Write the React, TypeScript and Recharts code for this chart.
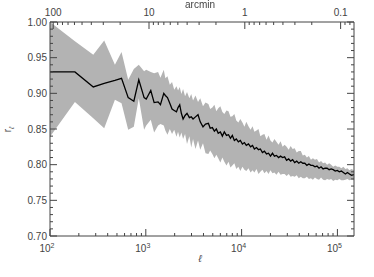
import React from "react";
import { Area, ComposedChart, Line, XAxis, YAxis } from "recharts";

// multipole values and the correlation r_ell (mean, lower and upper edge of the band)
const ell = [
  100, 182, 283, 368, 476, 558, 655, 750, 845, 960, 1010, 1127, 1222, 1343, 1422, 1540, 1600, 1683, 1780, 1879,
  1980, 2090, 2170, 2260, 2350, 2450, 2570, 2692, 2850, 2980, 3112, 3300, 3508, 3700, 3953, 4200,
  4500, 4700, 4950, 5200, 5450, 5700, 6000, 6300, 6600, 6950, 7300, 7650, 8000, 8400, 8800, 9250, 9700,
  10200, 10700, 11200, 11800, 12400, 13000, 13600, 14300, 15000, 15700, 16500, 17300, 18200, 19100, 20000,
  21000, 22000, 23100, 24300, 25500, 26800, 28100, 29500, 31000, 32500, 34100, 35800, 37600, 39500, 41500,
  43500, 45700, 48000, 50400, 52900, 55500, 58300, 61200, 64300, 67500, 70900, 74400, 78100, 82000, 86100,
  90400, 94900, 99700, 104700, 109900, 115400, 121200, 127200, 133600, 140300, 149000,
];
const rMean = [
  0.93, 0.93, 0.909, 0.914, 0.918, 0.921, 0.894, 0.889, 0.919, 0.894, 0.892, 0.904, 0.887, 0.888, 0.884, 0.9, 0.897, 0.894, 0.886, 0.878,
  0.876, 0.874, 0.88, 0.884, 0.872, 0.864, 0.869, 0.872, 0.866, 0.867, 0.864, 0.867, 0.87, 0.86, 0.853, 0.857,
  0.858, 0.851, 0.852, 0.847, 0.85, 0.844, 0.846, 0.84, 0.846, 0.841, 0.842, 0.837, 0.841, 0.834, 0.836, 0.832, 0.834,
  0.829, 0.831, 0.827, 0.829, 0.825, 0.827, 0.822, 0.824, 0.821, 0.822, 0.817, 0.819, 0.815, 0.816, 0.812,
  0.816, 0.812, 0.813, 0.81, 0.812, 0.81, 0.811, 0.806, 0.808, 0.805, 0.807, 0.803, 0.805, 0.802, 0.804,
  0.802, 0.802, 0.799, 0.801, 0.799, 0.799, 0.797, 0.798, 0.795, 0.797, 0.794, 0.795, 0.795, 0.793, 0.794,
  0.793, 0.791, 0.792, 0.79, 0.791, 0.789, 0.787, 0.789, 0.787, 0.785, 0.786,
];
const rLow = [
  0.839, 0.888, 0.865, 0.851, 0.891, 0.886, 0.849, 0.853, 0.893, 0.849, 0.855, 0.863, 0.845, 0.855, 0.857, 0.855, 0.848, 0.842, 0.85, 0.843,
  0.849, 0.839, 0.846, 0.838, 0.845, 0.836, 0.843, 0.829, 0.84, 0.824, 0.836, 0.822, 0.834, 0.821, 0.83, 0.816,
  0.815, 0.82, 0.815, 0.809, 0.814, 0.809, 0.803, 0.81, 0.804, 0.799, 0.804, 0.796, 0.799, 0.802, 0.794, 0.797, 0.791,
  0.797, 0.793, 0.791, 0.795, 0.789, 0.792, 0.789, 0.794, 0.787, 0.79, 0.793, 0.788, 0.791, 0.787, 0.792,
  0.788, 0.789, 0.786, 0.79, 0.786, 0.787, 0.787, 0.784, 0.787, 0.783, 0.784, 0.783, 0.785, 0.781, 0.783,
  0.781, 0.781, 0.783, 0.78, 0.781, 0.779, 0.782, 0.78, 0.779, 0.782, 0.779, 0.778, 0.78, 0.779, 0.78,
  0.777, 0.779, 0.778, 0.78, 0.778, 0.778, 0.779, 0.78, 0.778, 0.779, 0.778,
];
const rHigh = [
  1.0, 0.973, 0.954, 0.974, 0.94, 0.958, 0.919, 0.934, 0.94, 0.931, 0.933, 0.93, 0.928, 0.93, 0.922, 0.933, 0.921, 0.924, 0.912, 0.916,
  0.905, 0.91, 0.904, 0.909, 0.899, 0.906, 0.896, 0.902, 0.893, 0.899, 0.89, 0.897, 0.888, 0.893, 0.882, 0.887,
  0.885, 0.878, 0.88, 0.884, 0.875, 0.879, 0.882, 0.874, 0.871, 0.876, 0.875, 0.867, 0.868, 0.871, 0.862, 0.859, 0.864,
  0.859, 0.853, 0.86, 0.854, 0.849, 0.854, 0.846, 0.848, 0.85, 0.84, 0.842, 0.843, 0.835, 0.841, 0.834,
  0.831, 0.836, 0.832, 0.828, 0.833, 0.825, 0.828, 0.825, 0.821, 0.826, 0.822, 0.823, 0.817, 0.819, 0.819,
  0.813, 0.814, 0.81, 0.812, 0.807, 0.809, 0.807, 0.808, 0.803, 0.805, 0.802, 0.803, 0.8, 0.802, 0.8,
  0.797, 0.799, 0.797, 0.797, 0.795, 0.797, 0.794, 0.795, 0.792, 0.794, 0.792,
];

const xMajor = [100, 1000, 10000, 100000];
const xMajorExp = ["2", "3", "4", "5"];
const arcminMajor = [100, 10, 1, 0.1];
const arcminLabels = ["100", "10", "1", "0.1"];
const yMajor = [0.7, 0.75, 0.8, 0.85, 0.9, 0.95, 1.0];

const W = 374;
const H = 277;
const L = 50;
const R = 354;
const T = 22;
const B = 236;
const ELL_MAX = 149000;
const AXIS = "#444";
const TXT = "#444";
const FONT = "'Liberation Sans', Arial, sans-serif";

const data = ell.map((l, i) => ({ ell: l, mean: rMean[i], band: [rLow[i], rHigh[i]] }));

const xMinor: number[] = [];
for (const d of [100, 1000, 10000, 100000]) {
  for (let k = 2; k <= 9; k++) if (d * k <= ELL_MAX) xMinor.push(d * k);
}
const xTicks = [...xMajor, ...xMinor];

// top axis: arcmin, ell = 10800 / arcmin
const topMajor = arcminMajor.map((a) => 10800 / a);
const topMinor: number[] = [];
for (const d of [10, 1, 0.1, 0.01]) {
  for (let k = 2; k <= 9; k++) {
    const l = 10800 / (d * k);
    if (l >= 100 && l <= ELL_MAX) topMinor.push(l);
  }
}
const topTicks = [...topMajor, ...topMinor];

const yTicks: number[] = [];
for (let i = 70; i <= 100; i++) yTicks.push(i / 100);

const isMajor = (list: number[], v: number) => list.some((m) => Math.abs(m - v) < 1e-6 * Math.max(1, m));

function BottomTick(props: any) {
  const v = props.payload.value;
  const cx = props.payload.coordinate;
  const i = xMajor.findIndex((m) => Math.abs(m - v) < 1e-6);
  const major = i >= 0;
  return (
    <g>
      <line x1={cx} x2={cx} y1={B} y2={B - (major ? 7 : 3)} stroke={AXIS} strokeWidth={1} />
      {major && (
        <text x={cx - 3} y={B + 16} textAnchor="middle" fontSize={10} fill={TXT} fontFamily={FONT}>
          10
          <tspan dy={-4} fontSize={7}>
            {xMajorExp[i]}
          </tspan>
        </text>
      )}
    </g>
  );
}

function TopTick(props: any) {
  const v = props.payload.value;
  const cx = props.payload.coordinate;
  const i = topMajor.findIndex((m) => Math.abs(m - v) < 1e-6 * m);
  const major = i >= 0;
  return (
    <g>
      <line x1={cx} x2={cx} y1={T} y2={T + (major ? 7 : 3)} stroke={AXIS} strokeWidth={1} />
      {major && (
        <text x={cx} y={T - 6} textAnchor="middle" fontSize={10} fill={TXT} fontFamily={FONT}>
          {arcminLabels[i]}
        </text>
      )}
    </g>
  );
}

function LeftTick(props: any) {
  const v = props.payload.value;
  const cy = props.payload.coordinate;
  const major = isMajor(yMajor, v);
  return (
    <g>
      <line x1={L} x2={L + (major ? 7 : 3)} y1={cy} y2={cy} stroke={AXIS} strokeWidth={1} />
      {major && (
        <text x={L - 3} y={cy + 3.5} textAnchor="end" fontSize={10} fill={TXT} fontFamily={FONT}>
          {v.toFixed(2)}
        </text>
      )}
    </g>
  );
}

function RightTick(props: any) {
  const v = props.payload.value;
  const cy = props.payload.coordinate;
  const major = isMajor(yMajor, v);
  return <line x1={R} x2={R - (major ? 7 : 3)} y1={cy} y2={cy} stroke={AXIS} strokeWidth={1} />;
}

export default function App() {
  return (
    <div style={{ position: "fixed", left: 0, top: 0, width: W, height: H, background: "#fff" }}>
      <ComposedChart width={W} height={H} data={data} margin={{ top: 0, right: 0, bottom: 0, left: 0 }}>
        <XAxis
          dataKey="ell"
          type="number"
          scale="log"
          domain={[100, ELL_MAX]}
          allowDataOverflow
          ticks={xTicks}
          interval={0}
          height={H - B}
          tickLine={false}
          axisLine={{ stroke: AXIS }}
          tick={(p: any) => <BottomTick {...p} />}
        />
        <XAxis
          xAxisId="top"
          orientation="top"
          dataKey="ell"
          type="number"
          scale="log"
          domain={[100, ELL_MAX]}
          allowDataOverflow
          ticks={topTicks}
          interval={0}
          height={T}
          tickLine={false}
          axisLine={{ stroke: AXIS }}
          tick={(p: any) => <TopTick {...p} />}
        />
        <YAxis
          yAxisId="left"
          type="number"
          domain={[0.7, 1.0]}
          allowDataOverflow
          ticks={yTicks}
          interval={0}
          width={L}
          tickLine={false}
          axisLine={{ stroke: AXIS }}
          tick={(p: any) => <LeftTick {...p} />}
        />
        <YAxis
          yAxisId="right"
          orientation="right"
          type="number"
          domain={[0.7, 1.0]}
          allowDataOverflow
          ticks={yTicks}
          interval={0}
          width={W - R}
          tickLine={false}
          axisLine={{ stroke: AXIS }}
          tick={(p: any) => <RightTick {...p} />}
        />
        <Area
          yAxisId="left"
          dataKey="band"
          type="linear"
          stroke="none"
          fill="#b3b3b3"
          fillOpacity={1}
          isAnimationActive={false}
        />
        <Line
          yAxisId="left"
          dataKey="mean"
          type="linear"
          stroke="#000"
          strokeWidth={1.3}
          dot={false}
          isAnimationActive={false}
        />
      </ComposedChart>
      <div
        style={{
          position: "absolute",
          left: 170,
          width: 60,
          top: 0,
          lineHeight: "9px",
          textAlign: "center",
          fontFamily: FONT,
          fontSize: 10,
          color: TXT,
        }}
      >
        arcmin
      </div>
      <div
        style={{
          position: "absolute",
          left: 190,
          width: 20,
          top: 253,
          textAlign: "center",
          fontFamily: FONT,
          fontSize: 10,
          fontStyle: "italic",
          color: TXT,
        }}
      >
        ℓ
      </div>
      <div
        style={{
          position: "absolute",
          left: -12,
          width: 40,
          top: 123,
          textAlign: "center",
          fontFamily: FONT,
          fontSize: 10,
          color: TXT,
          transform: "rotate(-90deg)",
        }}
      >
        r<sub style={{ fontSize: 7, fontStyle: "italic" }}>ℓ</sub>
      </div>
    </div>
  );
}
